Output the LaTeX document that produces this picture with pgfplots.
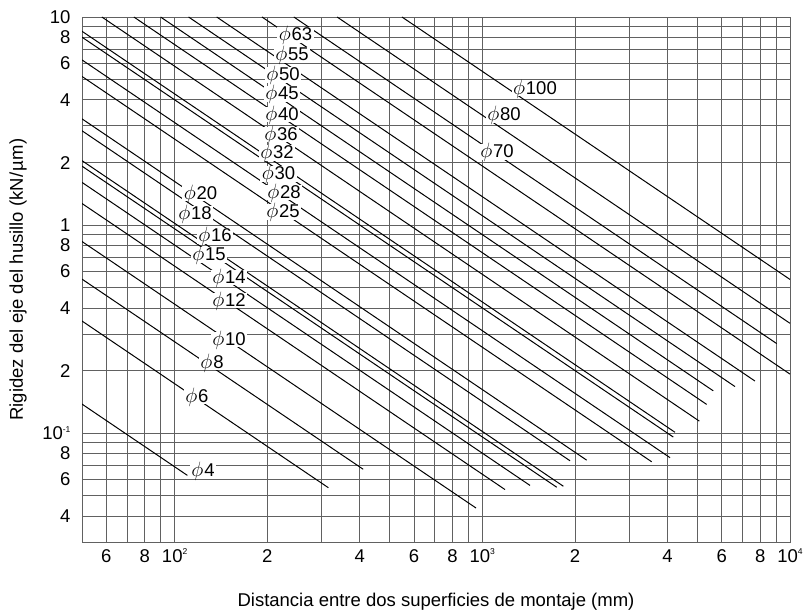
\documentclass[border=0pt]{standalone}
\usepackage{pgfplots}
\pgfplotsset{compat=1.18}
\usepackage{fontspec}
\setmainfont{Liberation Sans}
\newcommand{\sups}[1]{\raisebox{7.5pt}{\fontsize{8.5}{8.5}\selectfont #1}}
\newcommand{\ph}[1]{{\fontsize{20.5}{20.5}\selectfont$\phi$}\kern0.8pt#1}
\tikzset{labs/.style={fill=white, inner xsep=1.5pt, inner ysep=0.3pt, text height=13pt, text depth=1.5pt, font=\fontsize{18.5}{22}\selectfont},
  ln/.style={black, line width=1pt, mark=none}}
\begin{document}
\begin{tikzpicture}
\begin{axis}[
  scale only axis, width=708pt, height=525pt,
  xmode=log, ymode=log,
  xmin=50, xmax=10000, ymin=0.03, ymax=10,
  xtick={50,60,70,80,90,100,200,300,400,500,600,700,800,900,1000,2000,3000,4000,5000,6000,7000,8000,9000,10000},
  xticklabels={{},6,{},8,{},10\sups{2},2,{},4,{},6,{},8,{},10\sups{3},2,{},4,{},6,{},8,{},10\sups{4}},
  ytick={0.03,0.04,0.05,0.06,0.07,0.08,0.09,0.1,0.2,0.3,0.4,0.5,0.6,0.7,0.8,0.9,1,2,3,4,5,6,7,8,9,10},
  yticklabels={{},4,{},6,{},8,{},10\sups{-1},2,{},4,{},6,{},8,{},1,2,{},4,{},6,{},8,{},10},
  major tick length=0pt, minor tick length=0pt,
  grid=major,
  major grid style={black!62, line width=0.8pt},
  axis line style={black!62, line width=0.8pt},
  tick label style={font=\fontsize{18.5}{22}\selectfont},
  xticklabel style={anchor=base, yshift=-20pt},
  yticklabel style={anchor=base east, yshift=-6.6pt, xshift=-8pt},
  label style={font=\fontsize{18.5}{22}\selectfont},
  xlabel={Distancia entre dos superficies de montaje (mm)},
  xlabel style={at={(axis description cs:0.5,-0.1143)}, anchor=center},
  ylabel={Rigidez del eje del husillo (kN/\kern1pt µ\kern1pt m)},
  ylabel style={at={(axis description cs:-0.0904,0.5)}, anchor=center},
]
% phi 4
\addplot[ln] coordinates {(50,0.138) (110,0.0627)};
% phi 6
\addplot[ln] coordinates {(50,0.346) (316,0.0547)};
% phi 8
\addplot[ln] coordinates {(50,0.550) (410,0.0671)};
% phi 10
\addplot[ln] coordinates {(50,0.834) (954,0.0437)};
% phi 12
\addplot[ln] coordinates {(50,1.27) (1185,0.0536)};
% phi 14
\addplot[ln] coordinates {(50,1.604) (1429,0.0561)};
% phi 15
\addplot[ln] coordinates {(50,1.92) (1745,0.0550)};
% phi 16
\addplot[ln] coordinates {(50,2.04) (1834,0.0556)};
% phi 18
\addplot[ln] coordinates {(50,2.84) (1928,0.0737)};
% phi 20
\addplot[ln] coordinates {(50,3.24) (2184,0.0742)};
% phi 25
\addplot[ln] coordinates {(50,5.18) (3552,0.0729)};
% phi 28
\addplot[ln] coordinates {(50,6.22) (4074,0.0763)};
% phi 30
\addplot[ln] coordinates {(50,8.00) (4176,0.0958)};
% phi 32
\addplot[ln] coordinates {(50,8.54) (4229,0.1010)};
% phi 36
\addplot[ln] coordinates {(58,10) (5073,0.1143)};
% phi 40
\addplot[ln] coordinates {(73.7,10) (5360,0.1375)};
% phi 45
\addplot[ln] coordinates {(90,10) (5631,0.1598)};
% phi 50
\addplot[ln] coordinates {(111,10) (6626,0.1675)};
% phi 55
\addplot[ln] coordinates {(137,10) (7694,0.1781)};
% phi 63
\addplot[ln] coordinates {(192.3,10) (10000,0.1923)};
% phi 70
\addplot[ln] coordinates {(244,10) (9050,0.2696)};
% phi 80
\addplot[ln] coordinates {(337.3,10) (10000,0.3373)};
% phi 100
\addplot[ln] coordinates {(548,10) (10000,0.548)};
% labels
\node[labs] at (axis cs:247.1,8.19) {\ph{63}};
\node[labs] at (axis cs:240.7,6.57) {\ph{55}};
\node[labs] at (axis cs:225.0,5.264) {\ph{50}};
\node[labs] at (axis cs:223.4,4.266) {\ph{45}};
\node[labs] at (axis cs:223.4,3.40) {\ph{40}};
\node[labs] at (axis cs:221.7,2.725) {\ph{36}};
\node[labs] at (axis cs:215.1,2.221) {\ph{32}};
\node[labs] at (axis cs:217.5,1.760) {\ph{30}};
\node[labs] at (axis cs:226.7,1.435) {\ph{28}};
\node[labs] at (axis cs:225.0,1.156) {\ph{25}};
\node[labs] at (axis cs:1483,4.53) {\ph{100}};
\node[labs] at (axis cs:1176,3.38) {\ph{80}};
\node[labs] at (axis cs:1116,2.245) {\ph{70}};
\node[labs] at (axis cs:121.4,1.419) {\ph{20}};
\node[labs] at (axis cs:116.5,1.137) {\ph{18}};
\node[labs] at (axis cs:135.3,0.886) {\ph{16}};
\node[labs] at (axis cs:129.3,0.718) {\ph{15}};
\node[labs] at (axis cs:150.2,0.560) {\ph{14}};
\node[labs] at (axis cs:150.2,0.434) {\ph{12}};
\node[labs] at (axis cs:150.2,0.282) {\ph{10}};
\node[labs] at (axis cs:132.3,0.2186) {\ph{8}};
\node[labs] at (axis cs:118.2,0.150) {\ph{6}};
\node[labs] at (axis cs:123.7,0.0662) {\ph{4}};
\end{axis}
\pgfresetboundingbox
\path (-82pt,-72pt) rectangle (727pt,542pt);
\end{tikzpicture}
\end{document}
